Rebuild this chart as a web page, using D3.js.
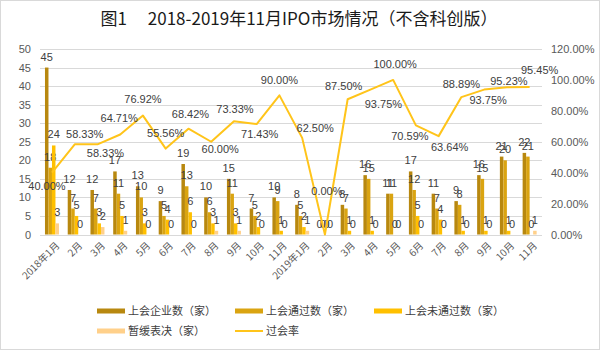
<!DOCTYPE html>
<html>
<head>
<meta charset="utf-8">
<script src="https://cdn.jsdelivr.net/npm/d3@7"></script>
<style>
  body { margin: 0; background: #fff; }
  text { font-family: "Liberation Sans", Arial, sans-serif; }
  .cjk { font-family: "Noto Sans CJK SC", sans-serif; }
</style>
</head>
<body>
<script>
var w = 600;
var h = 350;

// Categories (x axis)
var months = ["2018年1月", "2月", "3月", "4月", "5月", "6月", "7月", "8月", "9月", "10月", "11月",
              "2019年1月", "2月", "3月", "4月", "5月", "6月", "7月", "8月", "9月", "10月", "11月"];

// Series values
var meetings = [45, 12, 12, 17, 13, 9, 19, 10, 15, 7, 10, 8, 0, 8, 16, 11, 17, 11, 9, 16, 21, 22];
var passed   = [18, 7, 7, 11, 10, 5, 13, 6, 11, 5, 9, 5, 0, 7, 15, 11, 12, 7, 8, 15, 20, 21];
var failed   = [24, 5, 3, 5, 3, 4, 6, 3, 3, 2, 1, 2, 0, 1, 1, 0, 5, 4, 1, 1, 1, 0];
var deferred = [3, 0, 2, 1, 0, 0, 0, 1, 1, 0, 0, 1, 0, 0, 0, 0, 0, 0, 0, 0, 0, 1];
var passRate = [40.00, 58.33, 58.33, 64.71, 76.92, 55.56, 68.42, 60.00, 73.33, 71.43, 90.00,
                62.50, 0.00, 87.50, 93.75, 100.00, 70.59, 63.64, 88.89, 93.75, 95.23, 95.45];

// Tick labels
var leftTicks = [0, 5, 10, 15, 20, 25, 30, 35, 40, 45, 50];
var rightTicks = [0, 20, 40, 60, 80, 100, 120];

// Where each pass-rate label sits relative to its point (dx, dy)
var rateLabelShift = [[-5, 13], [10, -10], [8, 9], [-1, -16], [0, -16], [0, -15], [2, -15], [9, 7],
                      [1, -12], [3, 10], [0, -15], [13, -10], [2, -43], [-4, -13], [13, 15], [2, -16],
                      [-6, 11], [11, 11], [0, -13], [4, 11], [2, -6], [10, -17]];

var seriesNames = ["上会企业数（家）", "上会通过数（家）", "上会未通过数（家）", "暂缓表决（家）"];
var seriesColors = ["#B8880F", "#DAA411", "#FFC000", "#FFD08A"];
var lineName = "过会率";
var lineColor = "#FFC41A";

var barSeries = [meetings, passed, failed, deferred];

var svg = d3.select("body")
            .append("svg")
            .attr("width", w)
            .attr("height", h);

// Outer frame
svg.append("rect")
   .attr("x", 0.5).attr("y", 0.5)
   .attr("width", w - 1).attr("height", h - 1)
   .attr("fill", "#fff")
   .attr("stroke", "#D9D9D9");

// Title
svg.append("text")
   .attr("class", "cjk")
   .attr("x", 299)
   .attr("y", 25)
   .attr("text-anchor", "middle")
   .attr("font-size", 17)
   .attr("fill", "#1a1a1a")
   .text("图1\u3000 2018-2019年11月IPO市场情况（不含科创版）");

// Scales
var xScale = d3.scaleBand()
               .domain(d3.range(months.length))
               .range([40.6, 541]);

var innerScale = d3.scaleBand()
                   .domain(d3.range(barSeries.length))
                   .range([(xScale.bandwidth() - 14) / 2, (xScale.bandwidth() + 14) / 2]);

var yScale = d3.scaleLinear()
               .domain([0, 50])
               .range([234.5, 49]);

var yRight = d3.scaleLinear()
               .domain([0, 120])
               .range([234.5, 49]);

// Gridlines
svg.append("g")
   .selectAll("line")
   .data(leftTicks)
   .enter()
   .append("line")
   .attr("x1", 40)
   .attr("x2", 542)
   .attr("y1", function(d) { return Math.round(yScale(d)) + 0.5; })
   .attr("y2", function(d) { return Math.round(yScale(d)) + 0.5; })
   .attr("stroke", "#D9D9D9");

// Left axis
var yAxis = d3.axisLeft(yScale)
              .tickValues(leftTicks)
              .tickSize(0)
              .tickPadding(0);

svg.append("g")
   .attr("transform", "translate(31,0)")
   .call(yAxis)
   .call(function(g) {
       g.select(".domain").remove();
       g.selectAll("text").attr("font-size", 11).attr("fill", "#595959")
        .attr("font-family", "Liberation Sans, Arial, sans-serif");
   });

// Right axis
var yAxisRight = d3.axisRight(yRight)
                   .tickValues(rightTicks)
                   .tickSize(0)
                   .tickPadding(0)
                   .tickFormat(function(d) { return d.toFixed(2) + "%"; });

svg.append("g")
   .attr("transform", "translate(551,0)")
   .call(yAxisRight)
   .call(function(g) {
       g.select(".domain").remove();
       g.selectAll("text").attr("font-size", 11).attr("fill", "#595959")
        .attr("font-family", "Liberation Sans, Arial, sans-serif");
   });

// X axis labels (rotated)
var xAxis = d3.axisBottom(xScale)
              .tickSize(0)
              .tickFormat(function(i) { return months[i]; });

svg.append("g")
   .attr("transform", "translate(0,238)")
   .call(xAxis)
   .call(function(g) {
       g.select(".domain").remove();
       g.selectAll("text")
        .attr("class", "cjk")
        .attr("font-size", 10)
        .attr("fill", "#595959")
        .attr("text-anchor", "end")
        .attr("dy", "0.3em")
        .attr("transform", "translate(4,4) rotate(-45)");
   });

// Bars
var groups = svg.selectAll(".group")
                .data(barSeries)
                .enter()
                .append("g")
                .attr("class", "group")
                .attr("fill", function(d, i) { return seriesColors[i]; });

groups.each(function(series, si) {
    var g = d3.select(this);
    g.selectAll("rect")
     .data(series)
     .enter()
     .append("rect")
     .attr("x", function(d, i) { return xScale(i) + innerScale(si); })
     .attr("y", function(d) { return yScale(d); })
     .attr("width", innerScale.bandwidth())
     .attr("height", function(d) { return yScale(0) - yScale(d); });
});

// Bar value labels
groups.each(function(series, si) {
    d3.select(this)
      .selectAll("text")
      .data(series)
      .enter()
      .append("text")
      .attr("x", function(d, i) { return xScale(i) + innerScale(si) + innerScale.bandwidth() / 2; })
      .attr("y", function(d) { return yScale(d) - 7; })
      .attr("text-anchor", "middle")
      .attr("font-size", 11)
      .attr("fill", "#404040")
      .text(function(d) { return d; });
});

// Pass rate line
var line = d3.line()
             .x(function(d, i) { return xScale(i) + xScale.bandwidth() / 2; })
             .y(function(d) { return yRight(d); });

svg.append("path")
   .datum(passRate)
   .attr("d", line)
   .attr("fill", "none")
   .attr("stroke", lineColor)
   .attr("stroke-width", 2)
   .attr("stroke-linejoin", "round");

// Pass rate labels
svg.append("g")
   .selectAll("text")
   .data(passRate)
   .enter()
   .append("text")
   .attr("x", function(d, i) { return xScale(i) + xScale.bandwidth() / 2 + rateLabelShift[i][0]; })
   .attr("y", function(d, i) { return yRight(d) + rateLabelShift[i][1]; })
   .attr("dy", "0.35em")
   .attr("text-anchor", "middle")
   .attr("font-size", 11)
   .attr("fill", "#404040")
   .text(function(d) { return d.toFixed(2) + "%"; });

// Legend
var legendItems = [
    { name: seriesNames[0], color: seriesColors[0], x: 97, y: 311, type: "bar" },
    { name: seriesNames[1], color: seriesColors[1], x: 235, y: 311, type: "bar" },
    { name: seriesNames[2], color: seriesColors[2], x: 374, y: 311, type: "bar" },
    { name: seriesNames[3], color: seriesColors[3], x: 97, y: 331, type: "bar" },
    { name: lineName, color: lineColor, x: 235, y: 331, type: "line" }
];

var legend = svg.selectAll(".legend")
                .data(legendItems)
                .enter()
                .append("g")
                .attr("class", "legend")
                .attr("transform", function(d) { return "translate(" + d.x + "," + d.y + ")"; });

legend.append("rect")
      .attr("x", 0)
      .attr("y", function(d) { return d.type === "bar" ? -2.5 : -1; })
      .attr("width", 28)
      .attr("height", function(d) { return d.type === "bar" ? 5 : 2; })
      .attr("fill", function(d) { return d.color; });

legend.append("text")
      .attr("class", "cjk")
      .attr("x", 31)
      .attr("y", 0)
      .attr("dy", "0.35em")
      .attr("font-size", 11)
      .attr("fill", "#404040")
      .text(function(d) { return d.name; });
</script>
</body>
</html>
